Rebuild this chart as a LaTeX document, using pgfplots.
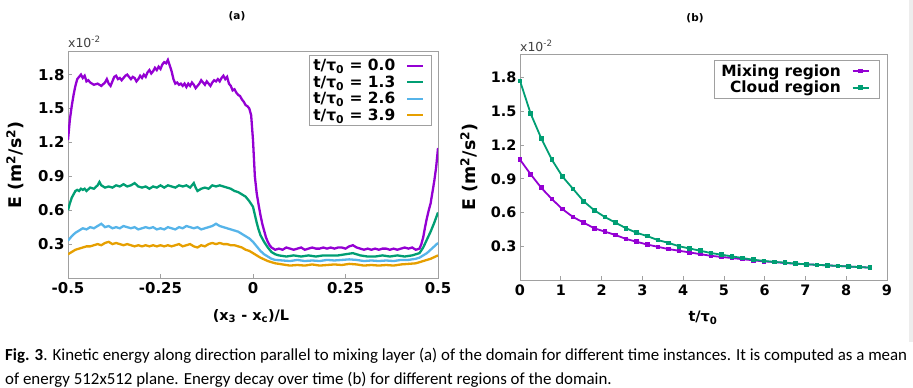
\documentclass[border=0pt]{standalone}
\usepackage{fontspec}
\setmainfont{DejaVu Sans}
\newfontfamily\capfont{Carlito}
\usepackage{graphicx}
\usepackage{pgfplots}
\pgfplotsset{compat=1.18}
\definecolor{cP}{HTML}{9400D3}
\definecolor{cG}{HTML}{009E73}
\definecolor{cB}{HTML}{56B4E9}
\definecolor{cO}{HTML}{E69F00}
\definecolor{frm}{HTML}{A0A0A0}
\definecolor{strip}{HTML}{EDEDED}

\pgfplotstableread{
x v
-0.500 1.22
-0.495 1.40
-0.490 1.52
-0.485 1.62
-0.480 1.70
-0.475 1.76
-0.470 1.78
-0.465 1.80
-0.460 1.77
-0.455 1.79
-0.450 1.74
-0.445 1.75
-0.440 1.73
-0.430 1.71
-0.420 1.72
-0.410 1.70
-0.400 1.73
-0.395 1.76
-0.390 1.72
-0.385 1.70
-0.380 1.74
-0.375 1.78
-0.370 1.79
-0.365 1.76
-0.360 1.77
-0.355 1.75
-0.350 1.77
-0.345 1.79
-0.340 1.80
-0.335 1.78
-0.330 1.76
-0.325 1.78
-0.320 1.77
-0.315 1.74
-0.310 1.76
-0.305 1.79
-0.300 1.77
-0.295 1.80
-0.290 1.78
-0.285 1.82
-0.280 1.84
-0.275 1.81
-0.270 1.83
-0.265 1.86
-0.260 1.84
-0.255 1.87
-0.250 1.85
-0.245 1.89
-0.240 1.91
-0.235 1.90
-0.230 1.93
-0.225 1.88
-0.220 1.83
-0.215 1.76
-0.210 1.72
-0.205 1.73
-0.200 1.71
-0.195 1.72
-0.190 1.70
-0.185 1.72
-0.180 1.69
-0.175 1.72
-0.170 1.70
-0.165 1.73
-0.160 1.71
-0.155 1.68
-0.150 1.70
-0.145 1.72
-0.140 1.75
-0.135 1.73
-0.130 1.71
-0.125 1.74
-0.120 1.72
-0.115 1.70
-0.110 1.73
-0.105 1.75
-0.100 1.74
-0.095 1.76
-0.090 1.74
-0.085 1.77
-0.080 1.79
-0.075 1.76
-0.070 1.78
-0.065 1.72
-0.060 1.70
-0.055 1.66
-0.050 1.67
-0.045 1.64
-0.040 1.62
-0.035 1.61
-0.030 1.58
-0.025 1.56
-0.020 1.53
-0.015 1.52
-0.010 1.50
-0.005 1.44
0.000 1.22
0.005 0.90
0.010 0.75
0.015 0.65
0.020 0.56
0.025 0.48
0.030 0.42
0.035 0.36
0.040 0.32
0.045 0.29
0.050 0.27
0.055 0.26
0.060 0.25
0.070 0.26
0.080 0.25
0.090 0.27
0.100 0.26
0.110 0.25
0.120 0.26
0.130 0.27
0.140 0.25
0.150 0.26
0.160 0.27
0.170 0.26
0.180 0.26
0.190 0.27
0.200 0.26
0.210 0.27
0.220 0.26
0.230 0.27
0.240 0.27
0.250 0.26
0.260 0.28
0.270 0.29
0.280 0.27
0.290 0.26
0.300 0.25
0.310 0.26
0.320 0.25
0.330 0.26
0.340 0.25
0.350 0.26
0.360 0.26
0.370 0.25
0.380 0.26
0.390 0.25
0.400 0.26
0.410 0.27
0.420 0.26
0.430 0.27
0.440 0.25
0.450 0.26
0.455 0.30
0.460 0.36
0.465 0.45
0.470 0.53
0.475 0.60
0.480 0.66
0.485 0.76
0.490 0.86
0.495 0.98
0.500 1.15
}\tA

\pgfplotstableread{
x v
-0.500 0.60
-0.495 0.66
-0.490 0.71
-0.485 0.74
-0.480 0.77
-0.475 0.78
-0.470 0.77
-0.465 0.79
-0.460 0.78
-0.455 0.79
-0.450 0.77
-0.440 0.80
-0.430 0.79
-0.420 0.82
-0.415 0.85
-0.410 0.82
-0.400 0.80
-0.390 0.81
-0.380 0.80
-0.370 0.82
-0.360 0.81
-0.350 0.83
-0.340 0.81
-0.330 0.82
-0.320 0.84
-0.310 0.81
-0.300 0.80
-0.290 0.81
-0.280 0.79
-0.270 0.81
-0.260 0.80
-0.250 0.82
-0.240 0.80
-0.230 0.82
-0.220 0.81
-0.210 0.80
-0.200 0.82
-0.190 0.81
-0.180 0.82
-0.170 0.80
-0.160 0.84
-0.155 0.80
-0.150 0.77
-0.140 0.79
-0.130 0.80
-0.120 0.79
-0.110 0.82
-0.100 0.81
-0.090 0.82
-0.080 0.81
-0.070 0.80
-0.060 0.79
-0.050 0.77
-0.040 0.76
-0.030 0.74
-0.020 0.72
-0.010 0.68
0.000 0.63
0.005 0.56
0.010 0.49
0.015 0.43
0.020 0.38
0.030 0.32
0.040 0.27
0.050 0.23
0.060 0.21
0.070 0.20
0.090 0.19
0.110 0.20
0.130 0.19
0.150 0.20
0.170 0.19
0.190 0.20
0.210 0.20
0.230 0.20
0.250 0.21
0.270 0.22
0.290 0.20
0.310 0.19
0.330 0.19
0.350 0.20
0.370 0.19
0.390 0.20
0.410 0.19
0.430 0.20
0.440 0.21
0.450 0.22
0.460 0.27
0.470 0.34
0.480 0.41
0.490 0.49
0.500 0.58
}\tB

\pgfplotstableread{
x v
-0.500 0.33
-0.490 0.37
-0.480 0.40
-0.470 0.42
-0.460 0.44
-0.450 0.43
-0.440 0.45
-0.430 0.44
-0.420 0.46
-0.410 0.48
-0.400 0.45
-0.390 0.46
-0.380 0.44
-0.370 0.45
-0.360 0.44
-0.350 0.46
-0.340 0.45
-0.330 0.44
-0.320 0.45
-0.310 0.43
-0.300 0.44
-0.290 0.45
-0.280 0.44
-0.270 0.45
-0.260 0.43
-0.250 0.44
-0.240 0.43
-0.230 0.45
-0.220 0.44
-0.210 0.43
-0.200 0.45
-0.190 0.44
-0.180 0.46
-0.170 0.45
-0.160 0.44
-0.150 0.45
-0.140 0.43
-0.130 0.44
-0.120 0.45
-0.110 0.46
-0.100 0.48
-0.090 0.46
-0.080 0.45
-0.070 0.44
-0.060 0.43
-0.050 0.42
-0.040 0.41
-0.030 0.39
-0.020 0.37
-0.010 0.35
0.000 0.32
0.010 0.28
0.020 0.24
0.030 0.21
0.040 0.19
0.050 0.17
0.060 0.16
0.080 0.155
0.100 0.15
0.120 0.16
0.140 0.15
0.160 0.155
0.180 0.15
0.200 0.16
0.220 0.155
0.240 0.16
0.260 0.165
0.280 0.16
0.300 0.15
0.320 0.155
0.340 0.15
0.360 0.155
0.380 0.15
0.400 0.16
0.420 0.16
0.440 0.17
0.450 0.18
0.460 0.20
0.470 0.22
0.480 0.25
0.490 0.28
0.500 0.31
}\tC

\pgfplotstableread{
x v
-0.500 0.21
-0.490 0.23
-0.480 0.25
-0.470 0.26
-0.460 0.27
-0.450 0.28
-0.440 0.28
-0.430 0.29
-0.420 0.30
-0.410 0.29
-0.400 0.31
-0.390 0.32
-0.380 0.30
-0.370 0.31
-0.360 0.30
-0.350 0.29
-0.340 0.30
-0.330 0.29
-0.320 0.28
-0.310 0.29
-0.300 0.28
-0.290 0.29
-0.280 0.28
-0.270 0.29
-0.260 0.28
-0.250 0.29
-0.240 0.28
-0.230 0.29
-0.220 0.28
-0.210 0.29
-0.200 0.30
-0.190 0.28
-0.180 0.29
-0.170 0.30
-0.160 0.28
-0.150 0.27
-0.140 0.29
-0.130 0.28
-0.120 0.30
-0.110 0.31
-0.100 0.30
-0.090 0.31
-0.080 0.30
-0.070 0.30
-0.060 0.29
-0.050 0.29
-0.040 0.28
-0.030 0.27
-0.020 0.25
-0.010 0.24
0.000 0.22
0.010 0.20
0.020 0.18
0.030 0.165
0.040 0.15
0.050 0.14
0.060 0.13
0.080 0.12
0.100 0.11
0.120 0.115
0.140 0.11
0.160 0.12
0.180 0.11
0.200 0.115
0.220 0.12
0.240 0.115
0.260 0.125
0.280 0.12
0.300 0.11
0.320 0.115
0.340 0.11
0.360 0.115
0.380 0.11
0.400 0.12
0.420 0.125
0.440 0.13
0.460 0.15
0.480 0.17
0.500 0.20
}\tD

\pgfplotstableread{
t mix cloud
0.00 1.07 1.77
0.26 0.94 1.48
0.52 0.82 1.26
0.78 0.72 1.07
1.04 0.63 0.92
1.30 0.56 0.81
1.56 0.51 0.70
1.82 0.46 0.62
2.08 0.43 0.56
2.34 0.40 0.51
2.60 0.365 0.46
2.86 0.34 0.42
3.12 0.315 0.39
3.38 0.295 0.355
3.64 0.275 0.33
3.90 0.26 0.30
4.16 0.245 0.28
4.42 0.23 0.26
4.68 0.215 0.24
4.94 0.205 0.225
5.20 0.195 0.21
5.46 0.185 0.195
5.72 0.175 0.18
5.98 0.165 0.17
6.24 0.16 0.16
6.50 0.15 0.155
6.76 0.145 0.145
7.02 0.14 0.14
7.28 0.135 0.135
7.54 0.13 0.13
7.80 0.125 0.125
8.06 0.12 0.12
8.32 0.115 0.115
8.58 0.11 0.11
}\tE

\begin{document}
\begin{tikzpicture}[x=1bp,y=1bp]
\useasboundingbox (0,0) rectangle (913,387);
\fill[strip] (909,45) rectangle (913,387);
\pgfplotsset{every axis/.append style={
  scale only axis,
  axis line style={frm, line width=1bp},
  major tick style={frm, line width=0.8bp},
  major tick length=4bp,
  tick align=inside,
  tick pos=left,
  ymin=0, ymax=2,
  ytick={0.3,0.6,0.9,1.2,1.5,1.8},
  yticklabels={0.3,0.6,0.9,1.2,1.5,1.8},
  legend cell align=right,
  legend plot pos=right,
  legend style={draw=frm, line width=1bp, inner sep=2bp},
  legend image code/.code={\path (0bp,0bp) (30bp,0bp); \draw[mark repeat=2,mark phase=2,#1] plot coordinates {(9bp,0bp) (17bp,0bp) (25bp,0bp)};},
}}
% left
\begin{axis}[at={(68bp,109bp)}, anchor=south west, width=370bp, height=226bp,
  xmin=-0.5, xmax=0.5,
  xtick={-0.5,-0.25,0,0.25,0.5},
  xticklabels={-0.5,-0.25,0,0.25,0.5},
  tick label style={font=\bfseries\fontsize{15}{17}\selectfont, text=black},
  xticklabel style={yshift=-1bp},
  legend style={at={(0.984,0.987)}, anchor=north east, font=\bfseries\fontsize{15.5}{17}\selectfont, row sep=-0.5bp},
]
\addplot[cP, line width=2.3bp] table[x=x,y=v]{\tA};
\addlegendentry{t/τ\textsubscript{0} = 0.0}
\addplot[cG, line width=2.3bp] table[x=x,y=v]{\tB};
\addlegendentry{t/τ\textsubscript{0} = 1.3}
\addplot[cB, line width=2.3bp] table[x=x,y=v]{\tC};
\addlegendentry{t/τ\textsubscript{0} = 2.6}
\addplot[cO, line width=2.3bp] table[x=x,y=v]{\tD};
\addlegendentry{t/τ\textsubscript{0} = 3.9}
\end{axis}
% right
\begin{axis}[at={(520bp,107bp)}, anchor=south west, width=367bp, height=225bp,
  xmin=0, xmax=9,
  xtick={0,1,2,3,4,5,6,7,8,9},
  xticklabels={0,1,2,3,4,5,6,7,8,9},
  tick label style={font=\bfseries\fontsize{14.5}{17}\selectfont, text=black},
  xticklabel style={yshift=-1bp},
  legend style={at={(0.981,0.978)}, anchor=north east, font=\bfseries\fontsize{15.5}{17}\selectfont, row sep=-0.5bp, inner xsep=5bp},
]
\addplot[cP, line width=1.8bp, mark=square*, mark size=1.4bp, mark options={solid}] table[x=t,y=mix]{\tE};
\addlegendentry{Mixing region}
\addplot[cG, line width=1.8bp, mark=square*, mark size=1.4bp, mark options={solid}] table[x=t,y=cloud]{\tE};
\addlegendentry{Cloud region}
\end{axis}
% titles and labels
\node[font=\bfseries\fontsize{10.5}{12}\selectfont] at (237,371) {(a)};
\node[font=\bfseries\fontsize{10.5}{12}\selectfont] at (695,369) {(b)};
\node[anchor=base west, inner sep=0, text=black!75, font=\fontsize{12.5}{14}\selectfont] at (68,340) {x10\textsuperscript{-2}};
\node[anchor=base west, inner sep=0, text=black!75, font=\fontsize{12.5}{14}\selectfont] at (520,336) {x10\textsuperscript{-2}};
\node[rotate=90, font=\bfseries\fontsize{17.5}{19}\selectfont] at (15,222) {E (m\textsuperscript{2}/s\textsuperscript{2})};
\node[rotate=90, font=\bfseries\fontsize{17.5}{19}\selectfont] at (469,220) {E (m\textsuperscript{2}/s\textsuperscript{2})};
\node[font=\bfseries\fontsize{14.5}{16}\selectfont] at (251,71) {(x\textsubscript{3} - x\textsubscript{c})/L};
\node[font=\bfseries\fontsize{14.5}{16}\selectfont] at (703,69) {t/τ\textsubscript{0}};
% caption
\node[anchor=north west, inner sep=0] at (5,43) {\resizebox{902bp}{!}{\capfont\fontsize{10}{14}\selectfont\begin{tabular}{@{}l@{}}\textbf{Fig. 3}. Kinetic energy along direction parallel to mixing layer (a) of the domain for different time instances. It is computed as a mean\\of energy 512x512 plane. Energy decay over time (b) for different regions of the domain.\end{tabular}}};
\end{tikzpicture}
\end{document}
